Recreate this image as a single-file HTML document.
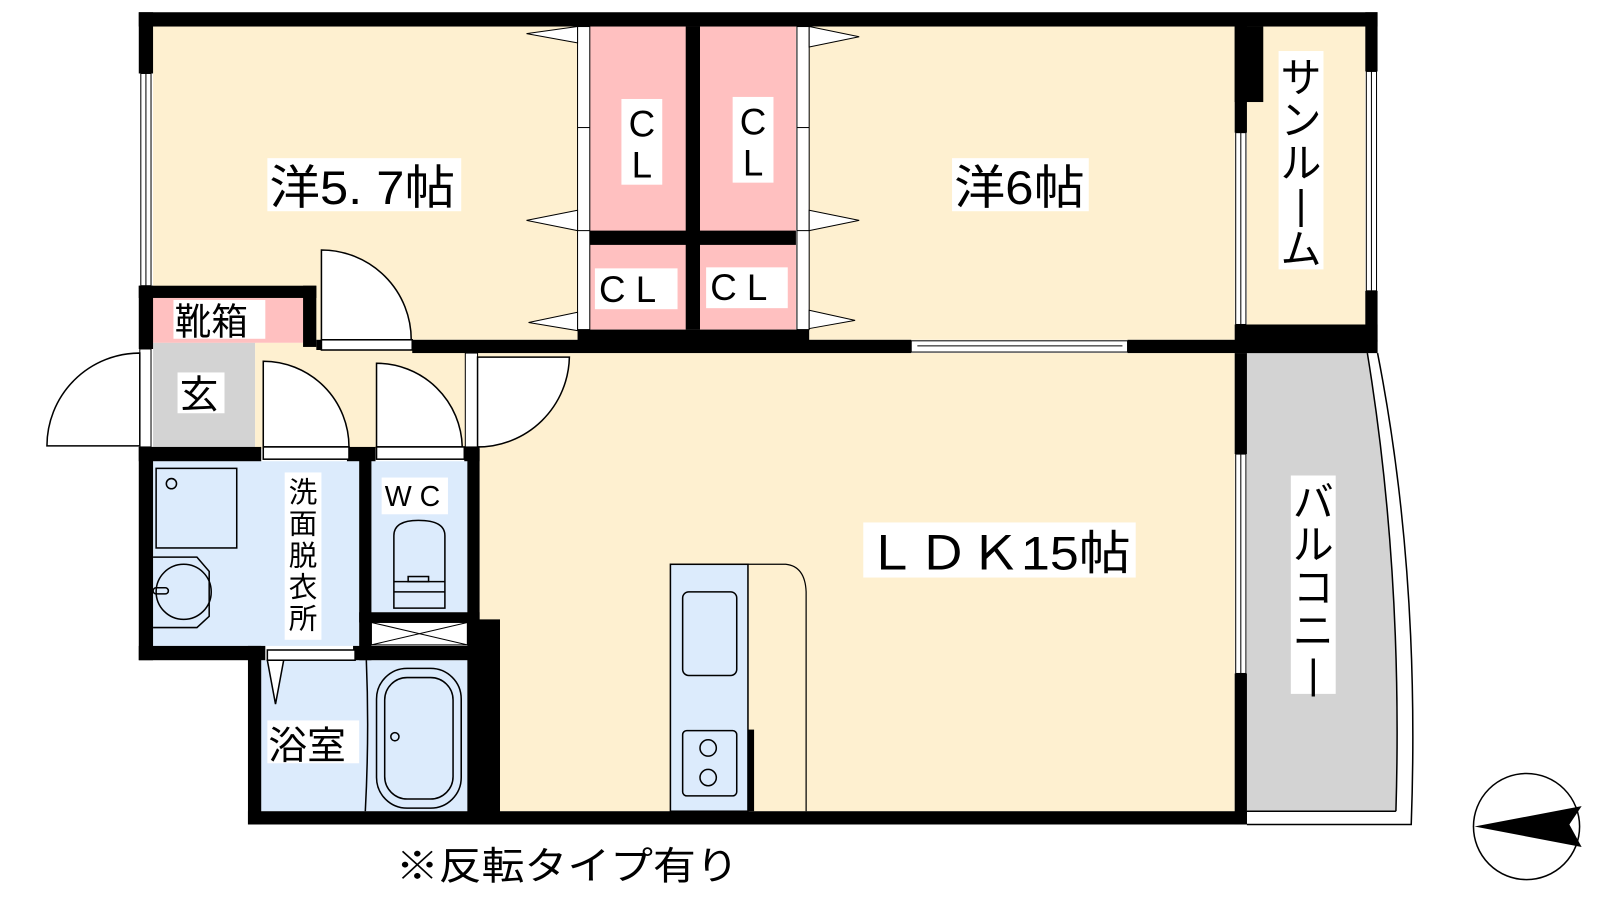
<!DOCTYPE html>
<html><head><meta charset="utf-8"><style>
html,body{margin:0;padding:0;background:#fff;width:1600px;height:900px;overflow:hidden}
svg{display:block}
text{font-family:"Liberation Sans","Noto Sans CJK JP",sans-serif;fill:#000}
</style></head><body>
<svg width="1600" height="900" viewBox="0 0 1568 882" xmlns="http://www.w3.org/2000/svg">
<!-- floors -->
<rect x="150" y="26" width="416" height="307" fill="#FEF0D0"/>
<rect x="793" y="26" width="417" height="307" fill="#FEF0D0"/>
<rect x="1222" y="26" width="116" height="292" fill="#FEF0D0"/>
<rect x="578" y="26" width="202" height="297" fill="#FFC0C0"/>
<rect x="150" y="292" width="147" height="44" fill="#FFC0C0"/>
<rect x="150" y="336" width="100" height="104" fill="#D3D3D3"/>
<rect x="250" y="336" width="220" height="104" fill="#FEF0D0"/>
<rect x="470" y="346" width="740" height="449" fill="#FEF0D0"/>
<rect x="150" y="452" width="202" height="181" fill="#DCEBFC"/>
<rect x="364" y="452" width="94" height="148" fill="#DCEBFC"/>
<rect x="256" y="647" width="202" height="148" fill="#DCEBFC"/>
<!-- balcony -->
<path d="M1222,346 L1340,346 Q1375,560 1368,795 L1222,795 Z" fill="#D3D3D3"/>
<path d="M1340,346 Q1375,560 1368,795" fill="none" stroke="#000" stroke-width="1.5"/>
<path d="M1350,346 Q1392,560 1383,808 L1222,808" fill="none" stroke="#000" stroke-width="1.5"/>
<line x1="1222" y1="795" x2="1368" y2="795" stroke="#000" stroke-width="1.5"/>
<!-- walls -->
<g fill="#000">
<rect x="136" y="12" width="1214" height="14"/>
<rect x="136" y="12" width="14" height="60"/>
<rect x="136" y="280" width="174" height="12"/>
<rect x="136" y="280" width="14" height="62"/>
<rect x="297" y="280" width="13" height="60"/>
<rect x="310" y="333" width="5" height="10"/>
<rect x="404" y="333" width="489" height="13"/>
<rect x="1105" y="333" width="245" height="13"/>
<rect x="1210" y="318" width="140" height="28"/>
<rect x="1210" y="26" width="28" height="74"/>
<rect x="1210" y="26" width="12" height="104"/>
<rect x="1338" y="12" width="12" height="58"/>
<rect x="1338" y="285" width="12" height="50"/>
<rect x="672" y="26" width="14" height="297"/>
<rect x="578" y="226" width="202" height="14"/>
<rect x="566" y="323" width="227" height="13"/>
<rect x="136" y="438" width="120" height="14"/>
<rect x="340" y="438" width="28" height="14"/>
<rect x="455" y="438" width="15" height="14"/>
<rect x="136" y="438" width="14" height="209"/>
<rect x="352" y="440" width="12" height="207"/>
<rect x="458" y="440" width="12" height="170"/>
<rect x="352" y="600" width="118" height="10"/>
<rect x="458" y="607" width="32" height="201"/>
<rect x="136" y="633" width="124" height="14"/>
<rect x="346" y="633" width="124" height="14"/>
<rect x="243" y="633" width="13" height="175"/>
<rect x="243" y="795" width="979" height="13"/>
<rect x="1210" y="346" width="12" height="99"/>
<rect x="1210" y="660" width="12" height="148"/>
<rect x="727" y="715" width="12" height="80"/>
</g>
<!-- windows -->
<g fill="#fff" stroke="#000" stroke-width="1">
<rect x="138" y="72" width="10" height="208"/>
<rect x="893" y="334" width="212" height="11"/>
<rect x="1211" y="130" width="10" height="188"/>
<rect x="1339" y="70" width="10" height="215"/>
<rect x="1211" y="445" width="10" height="215"/>
<rect x="566" y="26" width="12" height="297"/>
<rect x="781" y="26" width="12" height="297"/>
<rect x="137" y="342" width="11" height="96"/>
<rect x="456" y="346" width="12" height="92"/>
<rect x="364" y="610" width="94" height="22"/>
</g>
<g stroke="#000" stroke-width="1">
<line x1="143" y1="72" x2="143" y2="280"/><line x1="899" y1="339" x2="1100" y2="339"/>
<line x1="1216" y1="130" x2="1216" y2="318"/><line x1="1344" y1="70" x2="1344" y2="285"/>
<line x1="1216" y1="445" x2="1216" y2="660"/>
<line x1="364" y1="610" x2="458" y2="632"/><line x1="364" y1="632" x2="458" y2="610"/>
<line x1="566" y1="125" x2="578" y2="125"/><line x1="566" y1="226" x2="578" y2="226"/>
<line x1="781" y1="125" x2="793" y2="125"/><line x1="781" y1="226" x2="793" y2="226"/>
</g>
<!-- closet door triangles -->
<g fill="#fff" stroke="#000" stroke-width="1">
<polygon points="566,26 516,33 566,42"/><polygon points="566,206 516,216 566,226"/><polygon points="566,306 518,316 566,324"/>
<polygon points="793,26 842,36 793,46"/><polygon points="793,206 842,216 793,226"/><polygon points="793,304 838,314 793,322"/>
</g>
<!-- doors -->
<g fill="#fff" stroke="#000" stroke-width="1.5">
<path d="M315,333 L315,245 A88,88 0 0 1 403,333 Z"/>
<rect x="315" y="333" width="89" height="10"/>
<path d="M137,437 L46,437 A91,91 0 0 1 137,346 Z"/>
<path d="M258,438 L258,354 A84,84 0 0 1 342,438 Z"/>
<rect x="258" y="438" width="84" height="12"/>
<path d="M369,438 L369,356 A84,84 0 0 1 453,438 Z"/>
<rect x="369" y="438" width="86" height="12"/>
<path d="M468,350 L558,350 A90,90 0 0 1 468,438 Z"/>
<rect x="262" y="637" width="86" height="10"/>
<polygon points="262,647 278,647 270,690"/>
</g>
<!-- fixtures -->
<g fill="none" stroke="#000" stroke-width="1.5">
<rect x="153" y="459" width="79" height="78"/>
<circle cx="168" cy="474" r="5"/>
<path d="M150,546 L193,546 L205,560 L205,604 L193,615 L150,615"/>
<ellipse cx="180" cy="580" rx="27" ry="27"/>
<rect x="150" y="576" width="15" height="6" rx="3"/>
<path d="M386,596 L386,525 Q386,510 410,510 Q436,510 436,525 L436,596 Z"/>
<line x1="386" y1="570" x2="436" y2="570"/><line x1="386" y1="580" x2="436" y2="580"/>
<rect x="400" y="565" width="20" height="5"/>
<path d="M359,647 Q362,720 358,795"/>
<rect x="369" y="655" width="83" height="137" rx="30"/>
<rect x="377" y="664" width="67" height="119" rx="22"/>
<circle cx="387" cy="722" r="4"/>
<rect x="657" y="553" width="76" height="242" fill="#DCEBFC"/>
<path d="M733,553 L770,553 Q789,555 790,580 L790,795" stroke-width="1.2"/>
<rect x="669" y="580" width="53" height="82" rx="6"/>
<rect x="669" y="716" width="53" height="64" rx="4"/>
<circle cx="694" cy="733" r="8"/><circle cx="694" cy="762" r="8"/>
<ellipse cx="1496" cy="810" rx="52" ry="52"/>
</g>
<polygon points="1445,810 1550,790 1538,808 1550,830" fill="#000"/>
<!-- labels -->
<g fill="#fff">
<rect x="262" y="155" width="190" height="52"/>
<rect x="933" y="155" width="134" height="52"/>
<rect x="846" y="512" width="267" height="54"/>
<rect x="609" y="97" width="40" height="84"/>
<rect x="718" y="95" width="40" height="84"/>
<rect x="583" y="263" width="81" height="40"/>
<rect x="692" y="262" width="80" height="40"/>
<rect x="1253" y="50" width="44" height="214"/>
<rect x="1265" y="466" width="44" height="214"/>
<rect x="170" y="294" width="90" height="38"/>
<rect x="174" y="365" width="46" height="40"/>
<rect x="279" y="463" width="36" height="164"/>
<rect x="374" y="468" width="65" height="36"/>
<rect x="262" y="706" width="90" height="42"/>
</g>
<text x="264" y="200" font-size="46" textLength="182" lengthAdjust="spacingAndGlyphs">洋5. 7帖</text>
<text x="935" y="200" font-size="46" textLength="128" lengthAdjust="spacingAndGlyphs">洋6帖</text>
<text x="848" y="558" font-size="46" textLength="260" lengthAdjust="spacingAndGlyphs">ＬＤＫ15帖</text>
<text x="629" y="134" font-size="36" text-anchor="middle">C</text>
<text x="629" y="174" font-size="36" text-anchor="middle">L</text>
<text x="738" y="132" font-size="36" text-anchor="middle">C</text>
<text x="738" y="172" font-size="36" text-anchor="middle">L</text>
<text x="587" y="296" font-size="36">C L</text>
<text x="696" y="294" font-size="36">C L</text>
<g font-size="40" text-anchor="middle">
<text x="1275" y="90">サ</text><text x="1275" y="132">ン</text><text x="1275" y="174">ル</text><text x="1275" y="214">|</text><text x="1275" y="258">ム</text>
<text x="1287" y="506">バ</text><text x="1287" y="548">ル</text><text x="1287" y="590">コ</text><text x="1287" y="632">ニ</text><text x="1287" y="674">|</text>
</g>
<text x="171" y="328" font-size="36">靴箱</text>
<text x="176" y="400" font-size="38">玄</text>
<g font-size="28" text-anchor="middle">
<text x="297" y="492">洗</text><text x="297" y="523">面</text><text x="297" y="554">脱</text><text x="297" y="585">衣</text><text x="297" y="616">所</text>
</g>
<text x="377" y="496" font-size="28">W C</text>
<text x="263" y="744" font-size="38">浴室</text>
<text x="388" y="862" font-size="38" textLength="336" lengthAdjust="spacingAndGlyphs">※反転タイプ有り</text>
</svg>
</body></html>
